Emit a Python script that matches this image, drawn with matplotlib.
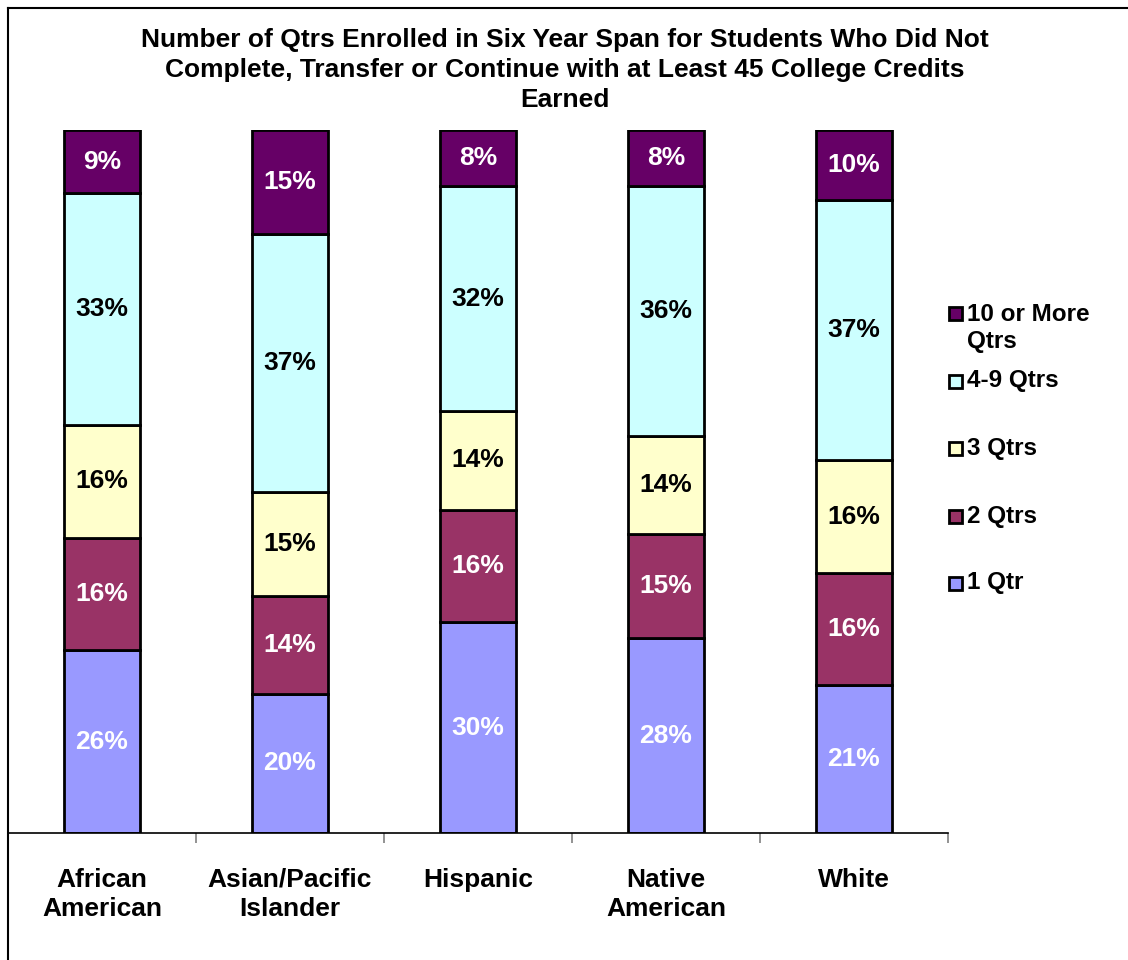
import numpy as np
import matplotlib
matplotlib.use("Agg")
import matplotlib.pyplot as plt
from matplotlib.patches import Rectangle
from matplotlib.lines import Line2D

# --- Datos ---
grupos = ["African\nAmerican", "Asian/Pacific\nIslander", "Hispanic", "Native\nAmerican", "White"]
series = ["1 Qtr", "2 Qtrs", "3 Qtrs", "4-9 Qtrs", "10 or More\nQtrs"]
uno = [26, 20, 30, 28, 21]
dos = [16, 14, 16, 15, 16]
tres = [16, 15, 14, 14, 16]
cuatro_nueve = [33, 37, 32, 36, 37]
diez_mas = [9, 15, 8, 8, 10]

colores = ["#9999FF", "#993366", "#FFFFCC", "#CCFFFF", "#660066"]
color_texto = ["white", "white", "black", "black", "white"]

plt.rcParams['font.family'] = ['Liberation Sans', 'DejaVu Sans']

W, H = 1128, 960
fig = plt.figure(figsize=(W / 100, H / 100), dpi=100)


def fx(px):
    return px / W


def fy(py):
    return 1 - py / H


# marco exterior del grafico
fig.add_artist(Line2D([fx(8), fx(1128)], [fy(8), fy(8)], color="black", lw=1.5))
fig.add_artist(Line2D([fx(8), fx(8)], [fy(8), fy(960)], color="black", lw=1.5))

ax = fig.add_axes([fx(8), fy(833), fx(948) - fx(8), fy(130) - fy(833)])

datos = np.array([uno, dos, tres, cuatro_nueve, diez_mas], dtype=float)
totales = datos.sum(axis=0)
x = np.arange(len(grupos))
base = np.zeros(len(grupos))
for k in range(len(series)):
    alto = datos[k] / totales * 100
    ax.bar(x, alto, bottom=base, width=0.4, color=colores[k],
           edgecolor="black", linewidth=2)
    for i in range(len(grupos)):
        ax.text(x[i], base[i] + alto[i] / 2, f"{int(datos[k][i])}%",
                ha="center", va="center", fontsize=19, fontweight="bold",
                color=color_texto[k])
    base += alto

ax.set_xlim(-0.5, len(grupos) - 0.5)
ax.set_ylim(0, 100)
ax.set_yticks([])
for lado in ["top", "right", "left"]:
    ax.spines[lado].set_visible(False)
ax.spines["bottom"].set_linewidth(1.2)
ax.set_xticks(x)
ax.set_xticklabels(grupos, fontsize=19, fontweight="bold", linespacing=1.3)
ax.tick_params(axis="x", length=0, pad=25)
ax.set_xticks(np.arange(len(grupos)) + 0.5, minor=True)
ax.tick_params(axis="x", which="minor", length=7, color="gray", width=1.2)

# titulo
fig.text(fx(565), fy(70),
         "Number of Qtrs Enrolled in Six Year Span for Students Who Did Not\n"
         "Complete, Transfer or Continue with at Least 45 College Credits\nEarned",
         ha="center", va="center", fontsize=19, fontweight="bold", linespacing=1.3)

# leyenda
pos_y = [313, 381, 448, 516, 583]
for k, yy in zip(range(len(series) - 1, -1, -1), pos_y):
    fig.add_artist(Rectangle((fx(949), fy(yy + 7)), fx(13), 13 / H,
                             facecolor=colores[k], edgecolor="black", lw=2))
    if "\n" in series[k]:
        fig.text(fx(967), fy(yy - 10), series[k], ha="left", va="top",
                 fontsize=17.5, fontweight="bold", linespacing=1.2)
    else:
        fig.text(fx(967), fy(yy), series[k], ha="left", va="center",
                 fontsize=17.5, fontweight="bold")

fig.savefig("out.png", dpi=100)
